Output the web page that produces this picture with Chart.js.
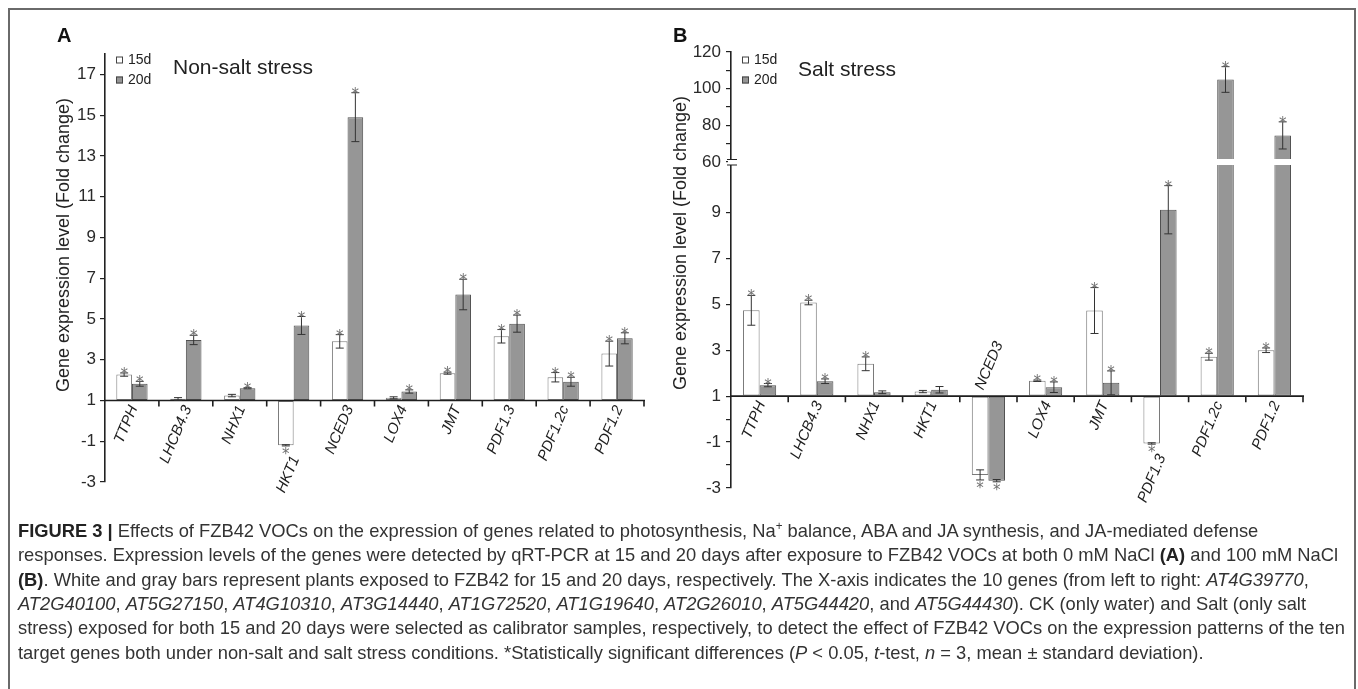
<!DOCTYPE html>
<html>
<head>
<meta charset="utf-8">
<script src="https://cdn.jsdelivr.net/npm/chart.js@4.4.1/dist/chart.umd.min.js"></script>
<style>
  body { margin: 0; width: 1358px; height: 689px; overflow: hidden; position: relative; background: #fff; }
  #frame { position: absolute; left: 8px; top: 8px; width: 1348px; height: 720px; box-sizing: border-box; border: 2px solid #6a6a6a; }
  #boxA { position: absolute; left: 0; top: 0; width: 670px; height: 520px; }
  #boxB { position: absolute; left: 670px; top: 0; width: 688px; height: 520px; }
  .cap { position: absolute; left: 18px; white-space: nowrap; font-family: "Liberation Sans", Arial, sans-serif;
         font-size: 19px; line-height: 24px; color: #333; transform-origin: 0 50%; }
  .cap b { color: #222; }
  .cap sup { font-size: 12px; line-height: 0; }
</style>
</head>
<body>
<div id="frame"></div>
<div id="boxA"><canvas id="chartA"></canvas></div>
<div id="boxB"><canvas id="chartB"></canvas></div>

<div class="cap" style="top:519px"><b>FIGURE 3 |</b> Effects of FZB42 VOCs on the expression of genes related to photosynthesis, Na<sup>+</sup> balance, ABA and JA synthesis, and JA-mediated defense</div>
<div class="cap" style="top:543px">responses. Expression levels of the genes were detected by qRT-PCR at 15 and 20 days after exposure to FZB42 VOCs at both 0 mM NaCl <b>(A)</b> and 100 mM NaCl</div>
<div class="cap" style="top:568px"><b>(B)</b>. White and gray bars represent plants exposed to FZB42 for 15 and 20 days, respectively. The X-axis indicates the 10 genes (from left to right: <i>AT4G39770</i>,</div>
<div class="cap" style="top:592px"><i>AT2G40100</i>, <i>AT5G27150</i>, <i>AT4G10310</i>, <i>AT3G14440</i>, <i>AT1G72520</i>, <i>AT1G19640</i>, <i>AT2G26010</i>, <i>AT5G44420</i>, and <i>AT5G44430</i>). CK (only water) and Salt (only salt</div>
<div class="cap" style="top:616px">stress) exposed for both 15 and 20 days were selected as calibrator samples, respectively, to detect the effect of FZB42 VOCs on the expression patterns of the ten</div>
<div class="cap" style="top:641px">target genes both under non-salt and salt stress conditions. *Statistically significant differences (<i>P</i> &lt; 0.05, <i>t</i>-test, <i>n</i> = 3, mean ± standard deviation).</div>

<script>
// genes on the x axis
const genes = ['TTPH', 'LHCB4.3', 'NHX1', 'HKT1', 'NCED3', 'LOX4', 'JMT', 'PDF1.3', 'PDF1.2c', 'PDF1.2'];
const seriesNames = ['15d', '20d'];

// A - non-salt stress (fold change, mean and sd)
const nonSalt15 = [2.27, 1.08, 1.24, -1.2, 3.9, 1.13, 2.34, 4.15, 2.14, 3.3];
const nonSalt15Err = [0.08, 0.06, 0.06, 0.03, 0.33, 0.05, 0.05, 0.33, 0.23, 0.61];
const nonSalt20 = [1.82, 3.97, 1.6, 4.68, 14.9, 1.44, 6.2, 4.77, 1.92, 4.05];
const nonSalt20Err = [0.12, 0.23, 0.03, 0.44, 1.2, 0.08, 0.75, 0.42, 0.22, 0.27];
const nonSalt15Sig = [1, 0, 0, 1, 1, 0, 1, 1, 1, 1];
const nonSalt20Sig = [1, 1, 1, 1, 1, 1, 1, 1, 1, 1];

// B - salt stress
const salt15 = [4.74, 5.08, 2.41, 1.2, -2.43, 1.67, 4.73, -1.06, 2.72, 3.0];
const salt15Err = [0.65, 0.1, 0.3, 0.05, 0.22, 0.03, 1.0, 0.03, 0.15, 0.1];
const salt20 = [1.48, 1.65, 1.17, 1.28, -2.68, 1.39, 1.58, 9.12, 105, 74.5];
const salt20Err = [0.07, 0.1, 0.06, 0.14, 0.05, 0.23, 0.52, 1.05, 7, 7.4];
const salt15Sig = [1, 1, 1, 0, 1, 1, 1, 1, 1, 1];
const salt20Sig = [1, 1, 0, 0, 1, 1, 1, 1, 1, 1];

// tick labels
const ticksA = [-3, -1, 1, 3, 5, 7, 9, 11, 13, 15, 17];
const ticksBLow = [-3, -2, -1, 0, 1, 3, 5, 7, 9];
const ticksBHigh = [60, 70, 80, 90, 100, 110, 120];
const labelsB = [-3, -1, 1, 3, 5, 7, 9, 60, 80, 100, 120];

const LOW_MAX = 11.2;   // top of lower segment in B
const HIGH_MIN = 60;    // bottom of upper segment in B
const FONT = '"Liberation Sans", Arial, sans-serif';
const STAR_FONT = '15px "DejaVu Sans", sans-serif';
const ANGLE = -67 * Math.PI / 180;
const WHITE = '#ffffff', GREY = '#969696';

function yAxis(extra) {
  return Object.assign({
    type: 'linear',
    stacked: false,
    grid: { display: true, drawOnChartArea: false, drawTicks: true, tickLength: 5, color: '#222', lineWidth: 1.2 },
    border: { display: true, color: '#222', width: 1.6 },
    ticks: { color: '#2a2a2a', padding: 4, autoSkip: false, font: { family: FONT, size: 17 } }
  }, extra);
}

function barSet(label, data, color, border, extra) {
  return Object.assign({
    label: label, data: data, base: 1,
    backgroundColor: color, borderColor: border, borderWidth: 1, borderSkipped: false,
    categoryPercentage: 0.58, barPercentage: 1
  }, extra);
}

// error bars, asterisks, x axis at fold change 1, gene names, legend and titles
function decor(o) {
  return {
    id: 'decor' + o.letter,
    afterDatasetsDraw(chart) {
      const ctx = chart.ctx, area = chart.chartArea, xs = chart.scales.x;
      const yLow = chart.scales[o.lowAxis];
      const yHigh = o.highAxis ? chart.scales[o.highAxis] : null;
      const scaleFor = v => (yHigh && v > HIGH_MIN) ? yHigh : yLow;
      const axisY = yLow.getPixelForValue(1);
      ctx.save();

      if (yHigh) {
        const yb = yHigh.bottom;
        ctx.fillStyle = '#fff';
        ctx.fillRect(area.left - 3, yb - 3, area.right - area.left + 3, 6);
        ctx.strokeStyle = '#222';
        ctx.lineWidth = 1.2;
        ctx.beginPath();
        ctx.moveTo(area.left - 4, yb - 2.5); ctx.lineTo(area.left + 6, yb - 2.5);
        ctx.moveTo(area.left - 4, yb + 3); ctx.lineTo(area.left + 6, yb + 3);
        ctx.stroke();
      }

      ctx.strokeStyle = '#1e1e1e';
      ctx.lineWidth = 1.6;
      ctx.beginPath();
      ctx.moveTo(area.left, axisY);
      ctx.lineTo(area.right + 1, axisY);
      genes.forEach((g, i) => {
        const tx = xs.getPixelForValue(i + 0.5);
        ctx.moveTo(tx, axisY);
        ctx.lineTo(tx, axisY + 6);
      });
      ctx.stroke();

      ctx.lineWidth = 1;
      o.series.forEach(s => {
        const meta = chart.getDatasetMeta(s.dataset);
        s.values.forEach((v, i) => {
          const bx = meta.data[i].x, ys = scaleFor(v);
          const top = ys.getPixelForValue(v + s.errors[i]);
          const bot = ys.getPixelForValue(v - s.errors[i]);
          ctx.strokeStyle = '#333';
          ctx.beginPath();
          ctx.moveTo(bx, top); ctx.lineTo(bx, bot);
          ctx.moveTo(bx - 4, top); ctx.lineTo(bx + 4, top);
          ctx.moveTo(bx - 4, bot); ctx.lineTo(bx + 4, bot);
          ctx.stroke();
          if (s.marks[i]) {
            ctx.fillStyle = '#707070';
            ctx.font = STAR_FONT;
            ctx.textAlign = 'center';
            ctx.textBaseline = 'alphabetic';
            if (v >= 1) ctx.fillText('*', bx, top + 6);
            else ctx.fillText('*', bx, bot + 13);
          }
        });
      });

      ctx.fillStyle = '#1e1e1e';
      ctx.font = 'italic 15px ' + FONT;
      ctx.textBaseline = 'middle';
      genes.forEach((g, i) => {
        const cx = xs.getPixelForValue(i);
        const vals = o.series.map(s => s.values[i]);
        ctx.save();
        if (vals.every(v => v < 1)) {
          ctx.translate(cx - 9, axisY - 7);
          ctx.rotate(ANGLE);
          ctx.textAlign = 'left';
        } else {
          let ly = axisY + 6;
          o.series.forEach(s => {
            const v = s.values[i];
            if (v < 1) ly = Math.max(ly, yLow.getPixelForValue(v - s.errors[i]) + 11);
          });
          ctx.translate(cx + 2, ly);
          ctx.rotate(ANGLE);
          ctx.textAlign = 'right';
        }
        ctx.fillText(g, 0, 0);
        ctx.restore();
      });

      ctx.font = '14px ' + FONT;
      ctx.textAlign = 'left';
      ctx.textBaseline = 'middle';
      chart.data.datasets.slice(0, 2).forEach((ds, k) => {
        const ly = 60 + k * 20;
        ctx.fillStyle = ds.backgroundColor;
        ctx.fillRect(area.left + 11, ly - 3.5, 7, 7);
        ctx.strokeStyle = '#444';
        ctx.lineWidth = 1;
        ctx.strokeRect(area.left + 11.5, ly - 3, 6, 6);
        ctx.fillStyle = '#222';
        ctx.fillText(ds.label, area.left + 23, ly);
      });

      ctx.fillStyle = '#111';
      ctx.font = 'bold 20px ' + FONT;
      ctx.fillText(o.letter, o.letterX, 36);
      ctx.fillStyle = '#222';
      ctx.font = '21px ' + FONT;
      ctx.fillText(o.title, o.titleX, o.titleY);

      ctx.translate(o.yTitleX, o.yTitleY);
      ctx.rotate(-Math.PI / 2);
      ctx.textAlign = 'center';
      ctx.font = '18px ' + FONT;
      ctx.fillText('Gene expression level (Fold change)', 0, 0);
      ctx.restore();
    }
  };
}

const baseOptions = {
  responsive: true,
  maintainAspectRatio: false,
  animation: false,
  events: [],
  plugins: { legend: { display: false }, tooltip: { enabled: false } }
};

// Panel A
new Chart(document.getElementById('chartA'), {
  type: 'bar',
  data: {
    labels: genes,
    datasets: [
      barSet(seriesNames[0], nonSalt15, WHITE, '#7a7a7a'),
      barSet(seriesNames[1], nonSalt20, GREY, '#505050')
    ]
  },
  options: Object.assign({}, baseOptions, {
    layout: { padding: { left: 0, top: 54, right: 26, bottom: 38 } },
    scales: {
      x: { display: false },
      y: yAxis({
        min: -3, max: 18,
        afterBuildTicks: s => { s.ticks = ticksA.map(v => ({ value: v })); },
        afterFit: s => { s.width = 105; }
      })
    }
  }),
  plugins: [decor({
    letter: 'A', letterX: 57, title: 'Non-salt stress', titleX: 173, titleY: 68,
    yTitleX: 64, yTitleY: 245, lowAxis: 'y',
    series: [
      { dataset: 0, values: nonSalt15, errors: nonSalt15Err, marks: nonSalt15Sig },
      { dataset: 1, values: nonSalt20, errors: nonSalt20Err, marks: nonSalt20Sig }
    ]
  })]
});

// Panel B - broken value axis made of two stacked scales (lower one listed first)
const tickLabelB = v => labelsB.includes(v) ? String(v) : '';
new Chart(document.getElementById('chartB'), {
  type: 'bar',
  data: {
    labels: genes,
    datasets: [
      barSet(seriesNames[0], salt15, WHITE, '#7a7a7a', { yAxisID: 'yLow', stack: 's15' }),
      barSet(seriesNames[1], salt20.map(v => Math.min(v, LOW_MAX)), GREY, '#505050', { yAxisID: 'yLow', stack: 's20' }),
      barSet(seriesNames[1], salt20.map(v => v > HIGH_MIN ? v : null), GREY, '#505050', { yAxisID: 'yHigh', stack: 's20', base: HIGH_MIN })
    ]
  },
  options: Object.assign({}, baseOptions, {
    layout: { padding: { left: 0, top: 52, right: 55, bottom: 32 } },
    scales: {
      x: { display: false },
      yLow: yAxis({
        position: 'left', stack: 'salt', stackWeight: 326,
        min: -3, max: LOW_MAX,
        afterBuildTicks: s => { s.ticks = ticksBLow.map(v => ({ value: v })); },
        afterFit: s => { s.width = 61; },
        ticks: { color: '#2a2a2a', padding: 5, autoSkip: false, font: { family: FONT, size: 17 }, callback: tickLabelB }
      }),
      yHigh: yAxis({
        position: 'left', stack: 'salt', stackWeight: 110,
        min: HIGH_MIN, max: 120,
        afterBuildTicks: s => { s.ticks = ticksBHigh.map(v => ({ value: v })); },
        afterFit: s => { s.width = 61; },
        ticks: { color: '#2a2a2a', padding: 5, autoSkip: false, font: { family: FONT, size: 17 }, callback: tickLabelB }
      })
    }
  }),
  plugins: [decor({
    letter: 'B', letterX: 3, title: 'Salt stress', titleX: 128, titleY: 70,
    yTitleX: 11, yTitleY: 243, lowAxis: 'yLow', highAxis: 'yHigh',
    series: [
      { dataset: 0, values: salt15, errors: salt15Err, marks: salt15Sig },
      { dataset: 1, values: salt20, errors: salt20Err, marks: salt20Sig }
    ]
  })]
});

// caption: squeeze the text to the width of the original column
function fitCaption() {
  const lines = document.querySelectorAll('.cap');
  lines.forEach(l => { l.style.transform = 'none'; });
  const w = lines[1].getBoundingClientRect().width;
  const k = 1320 / w;
  lines.forEach(l => { l.style.transform = 'scaleX(' + k + ')'; });
}
fitCaption();
if (document.fonts) document.fonts.ready.then(fitCaption);
</script>
</body>
</html>
